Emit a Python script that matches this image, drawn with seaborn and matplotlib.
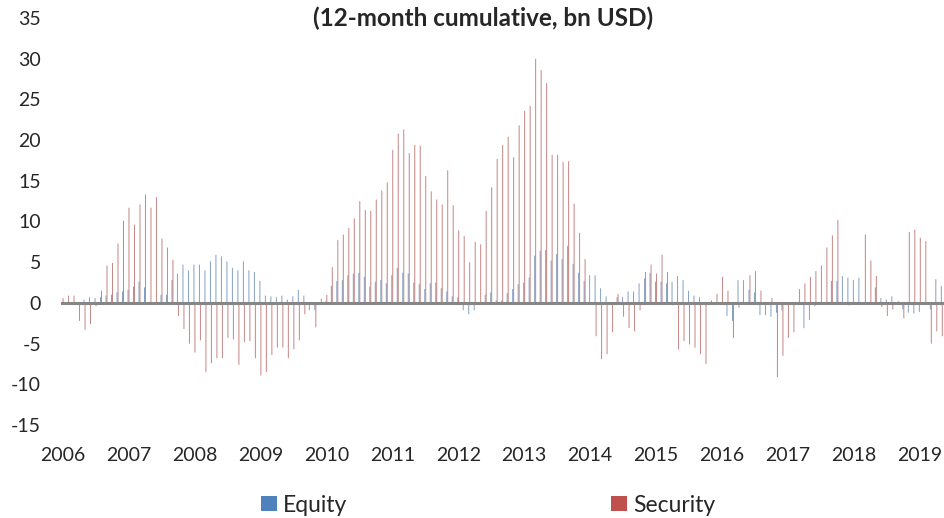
import numpy as np
import pandas as pd
import matplotlib
matplotlib.use("Agg")
import matplotlib.pyplot as plt
from matplotlib.patches import Patch
import seaborn as sns

# monthly values, Jan 2006 .. May 2019 (bn USD, 12-month cumulative)
equity = [
    0.0, 0.0, 0.0, 0.0, 0.4, 0.7, 0.6, 0.7, 0.9, 1.0, 1.3, 1.4,
    1.6, 2.0, 2.6, 1.9, 0.0, 0.0, 1.0, 1.0, 2.8, 3.6, 4.7, 4.0,
    4.7, 4.7, 4.0, 5.1, 5.9, 5.7, 5.1, 4.3, 4.0, 5.1, 4.0, 3.8,
    2.7, 0.9, 0.8, 0.7, 0.9, 0.4, 0.8, 1.6, 0.9, -0.9, -0.9, 0.0,
    0.2, 2.1, 2.7, 2.8, 3.4, 3.6, 3.7, 3.2, 2.0, 2.6, 2.8, 2.4,
    3.4, 4.3, 3.7, 3.6, 2.5, 2.3, 1.7, 2.4, 2.5, 1.8, 1.4, 0.8,
    0.7, -0.9, -1.4, -0.9, 0.0, 1.0, 1.3, 0.3, 0.3, 1.2, 1.7, 2.3,
    2.5, 3.1, 5.8, 6.4, 6.5, 5.2, 6.0, 5.4, 7.0, 4.8, 3.7, 2.7,
    3.4, 3.4, 1.8, 0.8, 0.0, 0.7, 0.7, 1.4, 1.4, 2.4, 3.0, 3.7,
    2.6, 2.6, 2.4, 2.6, 3.3, 2.8, 1.5, 0.9, 0.7, 0.0, 0.0, 0.0,
    0.0, -1.6, -2.2, 2.8, 2.8, 1.6, 1.3, -1.5, -1.5, -1.7, -1.2, -0.9,
    0.0, 0.0, 0.0, -3.1, -2.1, -0.4, 0.0, 0.0, 2.7, 2.7, 3.3, 3.1,
    2.8, 3.1, 0.0, 0.0, 1.9, 0.6, 0.4, 0.8, 0.0, -0.8, -1.2, -1.3,
    -1.1, 0.0, -0.8, 2.9, 2.1,
]
security = [
    0.6, 0.9, 0.9, -2.2, -3.3, -2.6, -0.4, 1.5, 4.6, 4.9, 7.3, 10.1,
    11.7, 9.6, 12.1, 13.3, 11.7, 13.0, 7.9, 6.8, 5.3, -1.6, -3.2, -5.0,
    -6.1, -4.6, -8.5, -7.4, -6.8, -6.8, -4.3, -4.5, -7.6, -4.8, -4.7, -6.8,
    -8.9, -8.5, -6.4, -5.5, -5.5, -6.8, -5.7, -4.6, -1.4, 0.0, -3.0, 0.5,
    1.0, 4.4, 7.7, 8.4, 9.2, 10.4, 12.5, 11.4, 11.3, 12.7, 13.8, 14.8,
    18.8, 20.8, 21.3, 18.4, 19.4, 19.3, 15.6, 13.7, 12.7, 12.1, 16.3, 12.0,
    8.9, 8.2, 5.0, 7.5, 7.2, 11.3, 14.2, 17.7, 19.4, 20.4, 17.9, 21.8,
    23.6, 24.2, 30.0, 28.6, 27.0, 18.2, 18.2, 17.3, 17.4, 12.2, 8.6, 5.4,
    0.0, -4.1, -6.9, -6.3, -3.6, 1.1, -1.7, -3.1, -3.5, -0.9, 3.8, 4.7,
    3.6, 5.9, 3.8, -0.3, -5.7, -4.7, -5.1, -5.5, -6.3, -7.5, 0.3, 1.1,
    3.2, 1.5, -4.3, -0.6, 0.0, 3.4, 3.9, 1.5, 0.0, 0.6, -9.1, -6.5,
    -4.3, -3.6, 1.7, 2.4, 3.2, 3.9, 4.6, 6.8, 8.3, 10.2, 0.0, -0.3,
    0.0, 0.0, 8.4, 5.2, 3.3, -0.5, -1.6, -0.8, 0.2, -1.9, 8.7, 9.0,
    8.0, 7.6, -5.0, -3.5, -4.1,
]
years = list(range(2006, 2020))
series_names = ["Equity", "Security"]
colors = {"Equity": "#4F81BD", "Security": "#C0504D"}

months = np.arange(len(equity))
df = pd.DataFrame({
    "month": np.concatenate([months, months]),
    "value": equity + security,
    "series": ["Equity"] * len(equity) + ["Security"] * len(security),
})

sns.set_style("white")
plt.rcParams["font.family"] = ["Lato", "DejaVu Sans"]

fig = plt.figure(figsize=(9.44, 5.18), dpi=100)
ax = fig.add_axes([62 / 944, 93 / 518, 882 / 944, 407 / 518])

# very thin bars, like the excel original
sns.barplot(data=df, x="month", y="value", hue="series", hue_order=series_names,
            palette=colors, width=0.36, dodge=True, errorbar=None,
            linewidth=0, alpha=0.75, legend=False, ax=ax)
for p in ax.patches:
    p.set_snap(False)  # otherwise sub-pixel bars get dropped

ax.set_xlim(-0.1, len(equity) - 0.6)
ax.set_ylim(-15, 35)
ax.set_yticks(range(-15, 36, 5))
ax.set_yticklabels([str(v) for v in range(-15, 36, 5)], fontsize=14)
ax.tick_params(axis="y", length=0, pad=15)

# x axis line through zero with year ticks, labels low
year_pos = [12 * (y - years[0]) for y in years]
ax.set_xticks(year_pos)
ax.set_xticklabels([])
ax.spines["bottom"].set_position(("data", 0))
ax.spines["bottom"].set_color("#868686")
ax.spines["bottom"].set_linewidth(2.2)
ax.spines["bottom"].set_zorder(5)
ax.tick_params(axis="x", direction="out", length=6, width=2.2, color="#868686")
for s in ["left", "right", "top"]:
    ax.spines[s].set_visible(False)
ax.set_xlabel("")
ax.set_ylabel("")

for y, p in zip(years, year_pos):
    ax.text(p, -0.075, str(y), transform=ax.get_xaxis_transform(),
            ha="center", va="center", fontsize=14)

fig.text(0.512, 0.965, "(12-month cumulative, bn USD)", ha="center", va="center",
         fontsize=17.5, fontweight="bold")

handles = [Patch(facecolor=colors[n], edgecolor="none") for n in series_names]
fig.legend(handles, series_names, loc="center", bbox_to_anchor=(0.517, 0.025),
           ncol=2, frameon=False, fontsize=16.5, handlelength=0.72, handleheight=0.58,
           handletextpad=0.25, columnspacing=11.5)

fig.savefig("out.png", dpi=100)
